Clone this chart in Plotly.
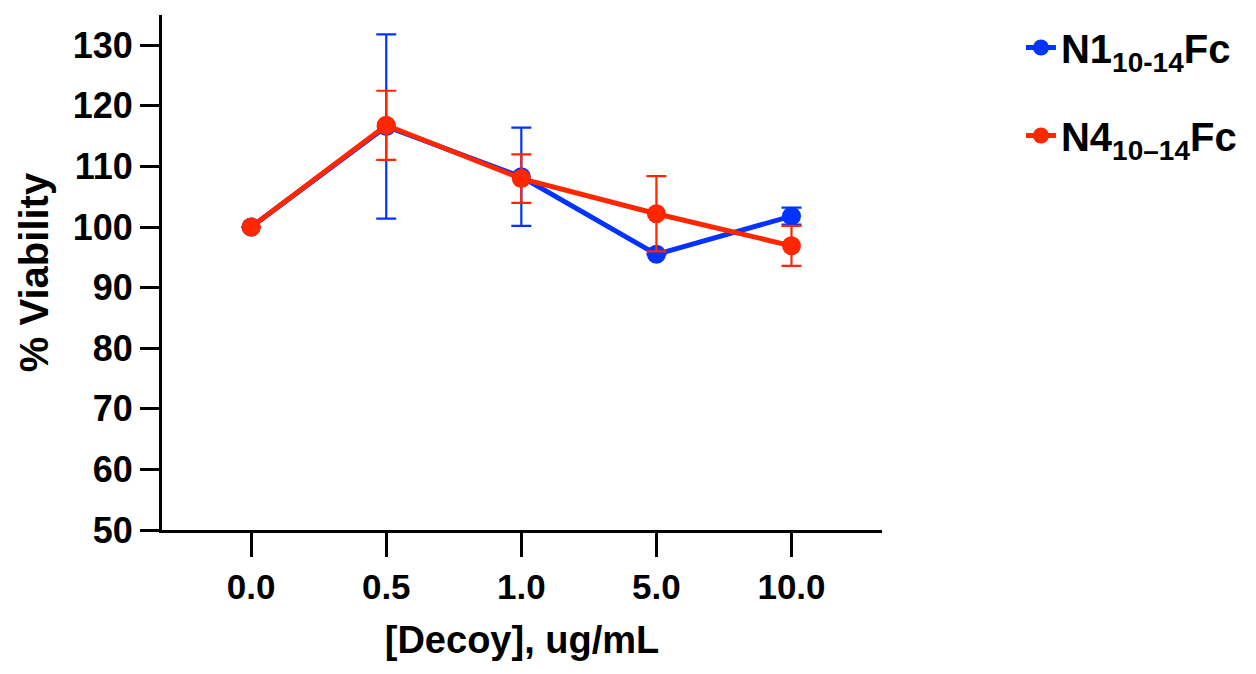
import plotly.graph_objects as go

categories = ["0.0", "0.5", "1.0", "5.0", "10.0"]
n1_values = [100.0, 116.6, 108.3, 95.5, 101.8]
n1_errors = [0.0, 15.2, 8.1, 0.0, 1.4]
n4_values = [100.0, 116.8, 108.0, 102.2, 96.9]
n4_errors = [0.0, 5.7, 4.0, 6.2, 3.3]
y_ticks = [50, 60, 70, 80, 90, 100, 110, 120, 130]

BLUE = "#0433FF"
RED = "#FF2600"
FONT = "Liberation Sans, Arial, sans-serif"

fig = go.Figure()
fig.add_trace(go.Scatter(
    x=categories, y=n1_values, mode="lines+markers",
    name="N1<sub>10-14</sub>Fc", legendgroup="a",
    line=dict(color=BLUE, width=5), marker=dict(color=BLUE, size=19),
    error_y=dict(type="data", array=n1_errors, color=BLUE, thickness=2.2, width=10),
))
fig.add_trace(go.Scatter(
    x=categories, y=n4_values, mode="lines+markers",
    name="N4<sub>10–14</sub>Fc", legendgroup="b",
    line=dict(color=RED, width=5), marker=dict(color=RED, size=19),
    error_y=dict(type="data", array=n4_errors, color=RED, thickness=2.2, width=10),
))

fig.update_layout(
    width=1256, height=674,
    margin=dict(l=162, r=374, t=15, b=144),
    paper_bgcolor="white", plot_bgcolor="white",
    font=dict(family=FONT, color="black", weight="bold"),
    showlegend=True,
    legend=dict(
        x=1.193, y=1.0, xanchor="left", yanchor="top",
        font=dict(family=FONT, size=40, color="black", weight="bold"),
        tracegroupgap=33, bgcolor="rgba(0,0,0,0)",
    ),
    xaxis=dict(
        type="category", categoryorder="array", categoryarray=categories,
        range=[-0.66, 4.67],
        showline=True, linecolor="black", linewidth=3,
        ticks="outside", ticklen=24, tickwidth=3, tickcolor="black",
        showgrid=False, zeroline=False,
        tickfont=dict(family=FONT, size=35, color="black", weight="bold"),
        title=dict(text="[Decoy], ug/mL", standoff=22,
                   font=dict(family=FONT, size=38, color="black", weight="bold")),
    ),
    yaxis=dict(
        range=[50, 135], tickvals=y_ticks,
        showline=True, linecolor="black", linewidth=3,
        ticks="outside", ticklen=19, tickwidth=3, tickcolor="black",
        showgrid=False, zeroline=False,
        tickfont=dict(family=FONT, size=36, color="black", weight="bold"),
        title=dict(text="% Viability", standoff=12,
                   font=dict(family=FONT, size=40, color="black", weight="bold")),
    ),
)

fig.write_html("out.html")
